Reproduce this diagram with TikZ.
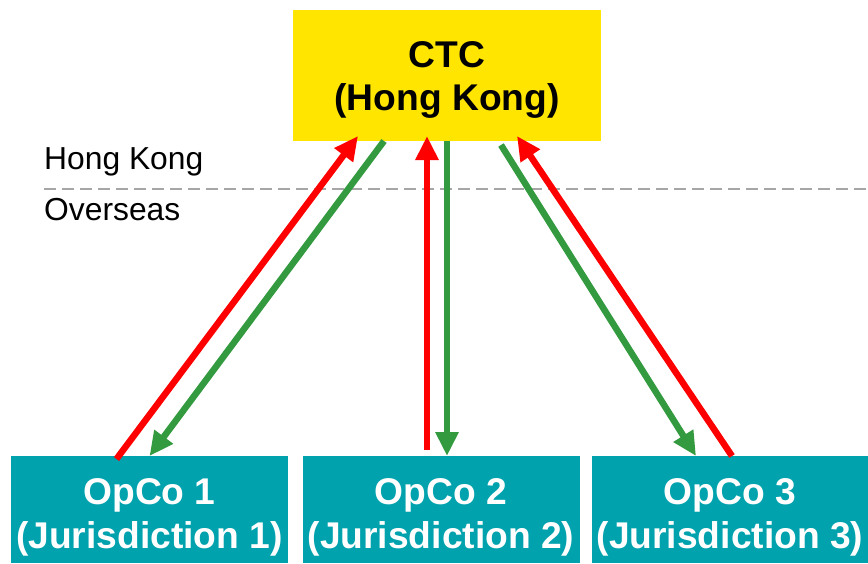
\documentclass[tikz,border=0pt]{standalone}
\usepackage{fontspec}
\setmainfont{Liberation Sans}
\usetikzlibrary{arrows.meta}
\definecolor{ctcyellow}{HTML}{FFE500}
\definecolor{opteal}{HTML}{00A2AE}
\definecolor{flowred}{HTML}{FF0000}
\definecolor{flowgreen}{HTML}{339A3F}
\definecolor{linegray}{HTML}{A6A6A6}
\tikzset{
  box/.style={draw=none, inner sep=0pt, outer sep=0pt},
  ctcbox/.style={box, fill=ctcyellow, minimum width=308pt, minimum height=131pt},
  opbox/.style={box, fill=opteal, minimum width=277pt, minimum height=107pt},
  boxtext/.style={anchor=base, inner sep=0pt, font=\fontsize{37.2}{43}\selectfont\bfseries},
  regiontext/.style={anchor=base west, inner sep=0pt, font=\fontsize{31.8}{37}\selectfont},
  flow/.style={line width=6.5pt, -{Triangle[length=24pt, width=22pt]}},
  upflow/.style={flow, draw=flowred, fill=flowred},
  downflow/.style={flow, draw=flowgreen, fill=flowgreen},
  border/.style={draw=linegray, line width=2.8pt, dash pattern=on 12pt off 6pt}
}
\begin{document}
\begin{tikzpicture}[x=1pt, y=-1pt]
  \useasboundingbox (0,0) rectangle (868,563);

  % boxes
  \node[ctcbox] (ctc) at (447,75.5) {};
  \node[opbox]  (op1) at (149.5,509.5) {};
  \node[opbox]  (op2) at (441,509.5) {};
  \node[opbox]  (op3) at (730,509.5) {};

  % box captions
  \node[boxtext] (ctcA) at (447,67) {CTC};
  \node[boxtext] (ctcB) at (447,110) {(Hong Kong)};
  \node[boxtext, text=white] (op1A) at (149.5,504) {OpCo 1};
  \node[boxtext, text=white] (op1B) at (149.5,548) {(Jurisdiction 1)};
  \node[boxtext, text=white] (op2A) at (441,504) {OpCo 2};
  \node[boxtext, text=white] (op2B) at (441,548) {(Jurisdiction 2)};
  \node[boxtext, text=white] (op3A) at (730,504) {OpCo 3};
  \node[boxtext, text=white] (op3B) at (730,548) {(Jurisdiction 3)};

  % region boundary
  \coordinate (bl) at (44,189);
  \coordinate (br) at (868,189);
  \draw[border] (bl) -- (br);
  \node[regiontext] (hk) at (44,169) {Hong Kong};
  \node[regiontext] (os) at (44,220) {Overseas};

  % flows up to CTC
  \draw[upflow] ([xshift=-33pt, yshift=-3pt]op1.north) -- ([xshift=-89pt, yshift=5pt]ctc.south);
  \draw[upflow] ([xshift=-14pt, yshift=6pt]op2.north) -- ([xshift=-20pt, yshift=5pt]ctc.south);
  \draw[upflow] ([xshift=2pt]op3.north) -- ([xshift=70pt, yshift=5pt]ctc.south);

  % flows down to the OpCos
  \draw[downflow] ([xshift=-63pt]ctc.south) -- (op1.north);
  \draw[downflow] (ctc.south) -- ([xshift=6pt]op2.north);
  \draw[downflow] ([xshift=54pt, yshift=-4pt]ctc.south) -- ([xshift=-34pt]op3.north);
\end{tikzpicture}
\end{document}
